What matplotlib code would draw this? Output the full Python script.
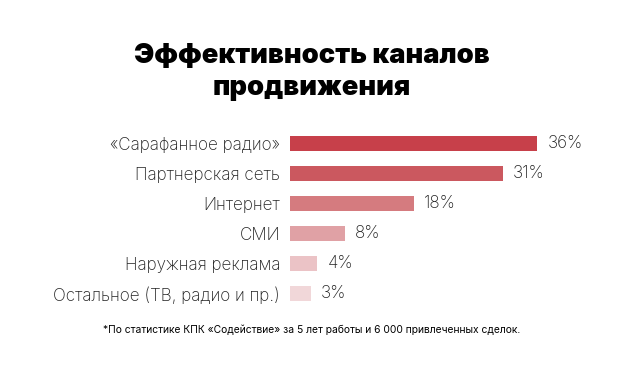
import matplotlib
matplotlib.use("Agg")
import matplotlib.pyplot as plt

# данные
kanaly = ["«Сарафанное радио»", "Партнерская сеть", "Интернет", "СМИ",
          "Наружная реклама", "Остальное (ТВ, радио и пр.)"]
procent = [36, 31, 18, 8, 4, 3]
cveta = ["#C7404A", "#CB585F", "#D57B7F", "#E0A1A5", "#EBC3C6", "#F1D7D9"]

plt.rcParams['font.family'] = ['Inter', 'DejaVu Sans']

fig = plt.figure(figsize=(6.24, 3.73), dpi=100)
fig.patch.set_facecolor("white")

# оси в пикселях: x от 290 до 580, y от 128 до 309
ax = fig.add_axes([290 / 624, 1 - 309 / 373, 290 / 624, 181 / 373])
pos = list(range(len(kanaly)))
ax.barh(pos, procent, height=0.5, color=cveta)
for i, v in enumerate(procent):
    ax.text(v + 1.5, i, f"{v}%", va="center", ha="left", fontsize=12.3,
            color="#222222", fontweight="light")

ax.set_xlim(0, 36 * 290 / 247)
ax.set_ylim(5.5, -0.5)
ax.set_yticks(pos)
ax.set_yticklabels(kanaly, fontsize=12.3, color="#222222", fontweight="light")
ax.tick_params(axis="y", length=0, pad=7)
ax.set_xticks([])
for s in ax.spines.values():
    s.set_visible(False)

# заголовок
fig.text(0.5, 1 - 63 / 373, "Эффективность каналов", ha="center",
         va="baseline", fontsize=19.6, fontweight="black", color="black")
fig.text(0.5, 1 - 95 / 373, "продвижения", ha="center",
         va="baseline", fontsize=19.6, fontweight="black", color="black")
fig.text(0.5, 1 - 330 / 373,
         "*По статистике КПК «Содействие» за 5 лет работы и 6 000 привлеченных сделок.",
         ha="center", va="center", fontsize=7.4, color="black")

fig.savefig("out.png", dpi=100, facecolor="white")
